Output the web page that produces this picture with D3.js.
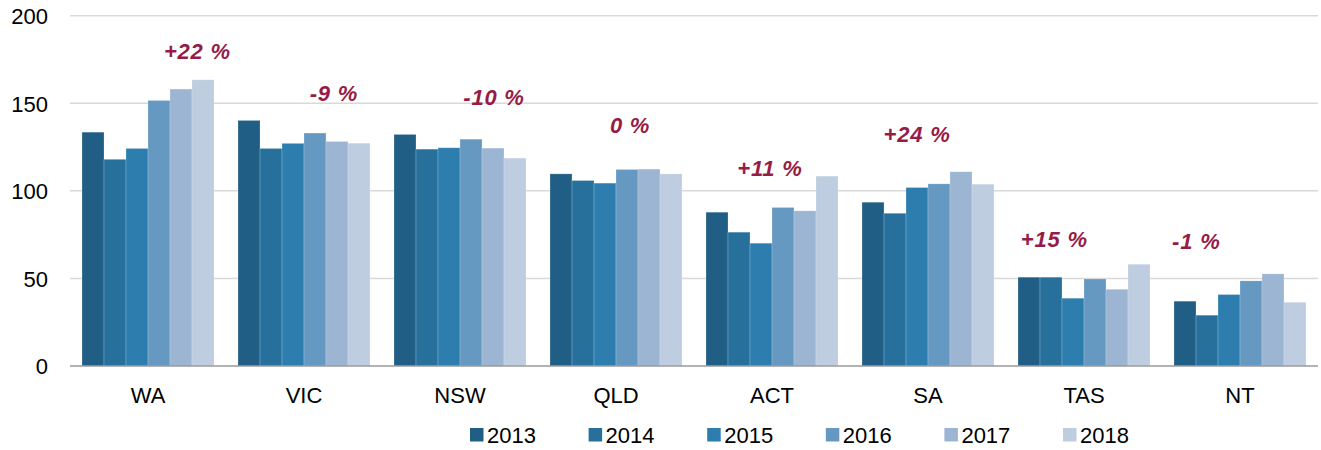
<!DOCTYPE html>
<html>
<head>
<meta charset="utf-8">
<script src="https://cdn.jsdelivr.net/npm/d3@7"></script>
<style>
  html, body { margin: 0; padding: 0; background: #fff; }
  svg { display: block; }
  text { font-family: "Liberation Sans", Arial, sans-serif; }
</style>
</head>
<body>
<svg id="chart" width="1321" height="450"></svg>
<script>
const categories = ["WA", "VIC", "NSW", "QLD", "ACT", "SA", "TAS", "NT"];
const years = ["2013", "2014", "2015", "2016", "2017", "2018"];
const v2013 = [133.5, 140.2, 132.2, 109.7, 87.8, 93.5, 50.7, 37.0];
const v2014 = [118.0, 124.2, 123.8, 105.9, 76.4, 87.2, 50.7, 29.0];
const v2015 = [124.2, 127.1, 124.6, 104.4, 70.1, 101.9, 38.7, 40.8];
const v2016 = [151.6, 133.0, 129.5, 112.2, 90.5, 104.0, 49.7, 48.6];
const v2017 = [158.1, 128.2, 124.4, 112.4, 88.6, 110.9, 43.8, 52.6];
const v2018 = [163.4, 127.2, 118.7, 109.7, 108.4, 103.8, 58.1, 36.4];
const changeLabels = ["+22 %", "-9 %", "-10 %", "0 %", "+11 %", "+24 %", "+15 %", "-1 %"];
const yTicks = [0, 50, 100, 150, 200];
const series = [v2013, v2014, v2015, v2016, v2017, v2018];

// annotation placement (fraction across category band, value level of baseline)
const labelBandFrac = [0.817, 0.692, 0.718, 0.59, 0.487, 0.43, 0.31, 0.22];
const labelLevel = [175.4, 151.4, 149.0, 133.0, 108.6, 128.0, 68.0, 66.9];

const colors = ["#215e85", "#26709b", "#2d7daf", "#6699c2", "#9bb5d2", "#bfcde0"];

const svg = d3.select("#chart");
const margin = { left: 70, right: 3, top: 15.7, bottom: 84 };
const W = 1321, H = 450;
const plotBottom = 366;

const x0 = d3.scaleBand().domain(categories)
  .range([margin.left, W - margin.right])
  .paddingInner(0.154).paddingOuter(0.077);
const x1 = d3.scaleBand().domain(years).range([0, x0.bandwidth()]).padding(0);
const y = d3.scaleLinear().domain([0, 200]).range([plotBottom, margin.top]);

// gridlines
svg.append("g").selectAll("line")
  .data(yTicks.filter(d => d > 0))
  .join("line")
  .attr("x1", margin.left).attr("x2", W - margin.right)
  .attr("y1", d => y(d)).attr("y2", d => y(d))
  .attr("stroke", "#d9d9d9").attr("stroke-width", 1.5);

// y axis labels
const yAxis = d3.axisLeft(y).tickValues(yTicks).tickSize(0).tickPadding(0);
const yg = svg.append("g").attr("transform", `translate(48,0)`).call(yAxis);
yg.select(".domain").remove();
yg.selectAll("text").attr("font-size", 22).attr("fill", "#000")
  .attr("font-family", "'Liberation Sans', Arial, sans-serif").attr("dy", "0.36em");

// bars
const groups = svg.append("g").selectAll("g")
  .data(categories)
  .join("g")
  .attr("transform", d => `translate(${x0(d)},0)`);

groups.selectAll("rect")
  .data((c, i) => years.map((yr, j) => ({ yr, v: series[j][i], j })))
  .join("rect")
  .attr("x", d => x1(d.yr))
  .attr("width", x1.bandwidth())
  .attr("y", d => y(d.v))
  .attr("height", d => y(0) - y(d.v))
  .attr("fill", d => colors[d.j])
  .attr("stroke", "rgba(255,255,255,0.25)")
  .attr("stroke-width", 0.8);

// baseline axis
const xAxis = d3.axisBottom(x0).tickSize(0).tickPadding(0);
const xg = svg.append("g").attr("transform", `translate(0,${plotBottom})`).call(xAxis);
xg.select(".domain").attr("stroke", "#9a9a9a").attr("stroke-width", 1.5)
  .attr("d", `M${margin.left},0H${W - margin.right}`);
xg.selectAll("text").attr("font-size", 22).attr("fill", "#000")
  .attr("font-family", "'Liberation Sans', Arial, sans-serif")
  .attr("y", 37).attr("dy", 0);

// change annotations
svg.append("g").selectAll("text")
  .data(categories)
  .join("text")
  .attr("x", (d, i) => x0(d) - x0.step() * x0.paddingInner() / 2 + labelBandFrac[i] * x0.step())
  .attr("y", (d, i) => y(labelLevel[i]))
  .attr("text-anchor", "middle")
  .attr("font-size", 22)
  .attr("font-weight", "bold")
  .attr("font-style", "italic")
  .attr("letter-spacing", 0.8)
  .attr("fill", "#961c48")
  .text((d, i) => changeLabels[i]);

// legend
const legend = svg.append("g");
const legendX = d3.scalePoint().domain(years).range([470, 1063]);
const li = legend.selectAll("g").data(years).join("g")
  .attr("transform", d => `translate(${legendX(d)},428)`);
li.append("rect").attr("width", 13.5).attr("height", 13.5)
  .attr("fill", (d, i) => colors[i]);
li.append("text").attr("x", 17).attr("y", 15)
  .attr("font-size", 22).attr("fill", "#000").text(d => d);
</script>
</body>
</html>
